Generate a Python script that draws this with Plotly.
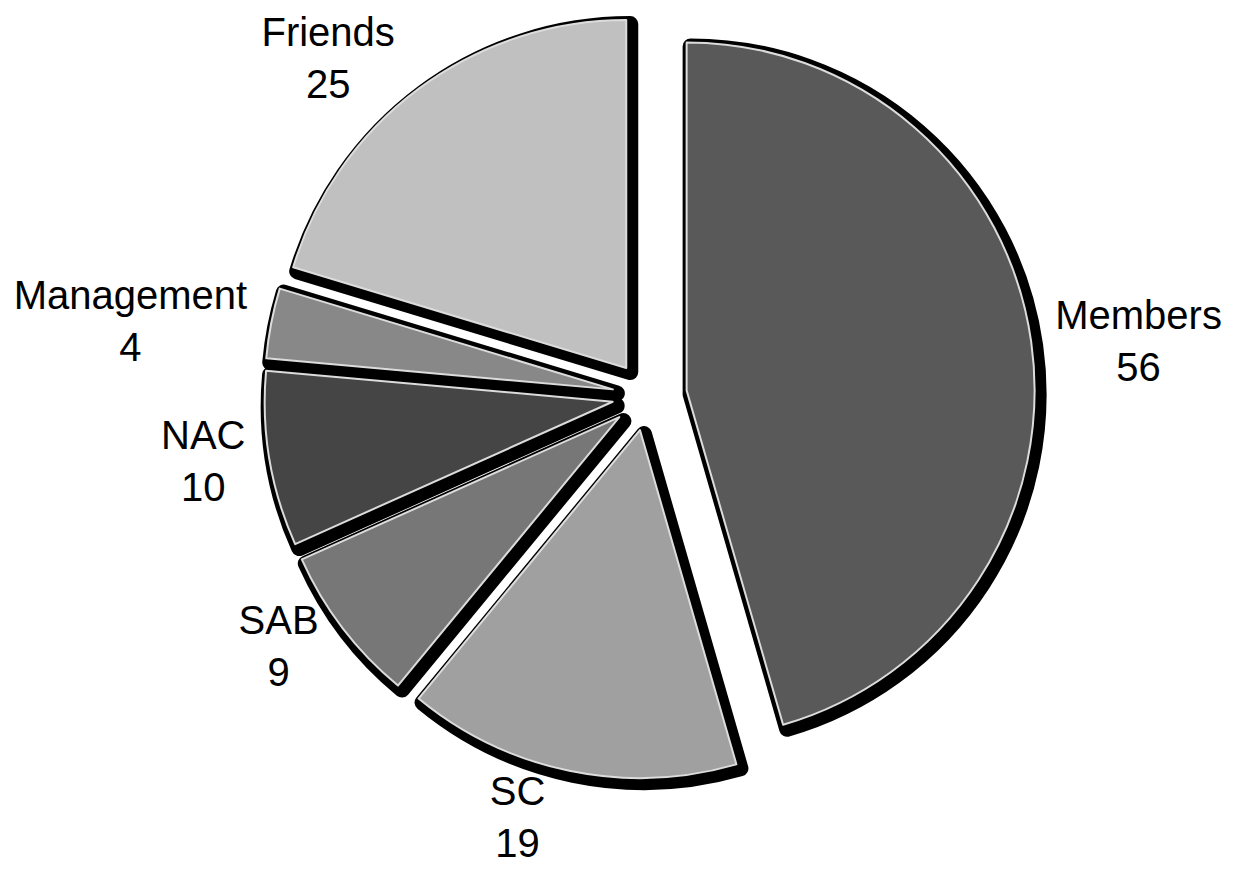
import plotly.graph_objects as go

labels = ["Members", "SC", "SAB", "NAC", "Management", "Friends"]
values = [56, 19, 9, 10, 4, 25]
colors = ["#595959", "#a0a0a0", "#777777", "#454545", "#888888", "#c0c0c0"]
pulls = [0.115, 0.1, 0.1, 0.1, 0.1, 0.1]

W, H = 1238, 870
cx, cy, half = 639, 388, 388  # pixel geometry of the pie domain
dx0, dx1 = (cx - half) / W, (cx + half) / W
dy1, dy0 = 1 - (cy - half) / H, 1 - (cy + half) / H
sx, sy = 4 / W, 4 / H

fig = go.Figure()
# shadow layer
fig.add_trace(go.Pie(
    labels=labels, values=values, pull=pulls, sort=False, direction="clockwise",
    rotation=0, textinfo="none", hoverinfo="skip", automargin=False,
    marker=dict(colors=["#000000"] * len(values), line=dict(color="#000000", width=16)),
    domain=dict(x=[dx0 + sx, dx1 + sx], y=[max(dy0 - sy, 0), dy1 - sy]),
))
# main layer
fig.add_trace(go.Pie(
    labels=labels, values=values, pull=pulls, sort=False, direction="clockwise",
    rotation=0, textinfo="label+value", textposition="outside", automargin=False,
    textfont=dict(family="Liberation Sans, Arial, sans-serif", size=40, color="#000000"),
    marker=dict(colors=colors, line=dict(color="#dcdcdc", width=2)),
    domain=dict(x=[dx0, dx1], y=[dy0, dy1]),
))
fig.update_layout(
    width=W, height=H, showlegend=False,
    margin=dict(l=0, r=0, t=0, b=0, autoexpand=False),
    paper_bgcolor="white", plot_bgcolor="white",
)
fig.write_html("out.html")
